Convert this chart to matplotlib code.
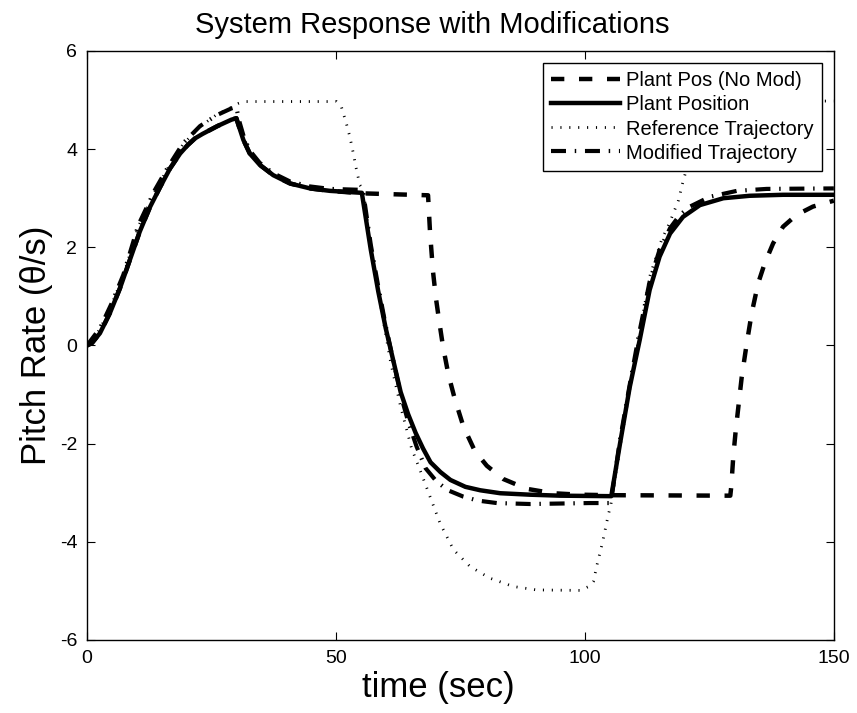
import numpy as np
import matplotlib
matplotlib.use('Agg')
import matplotlib.pyplot as plt

plt.rcParams['font.family'] = ['Liberation Sans', 'DejaVu Sans']
plt.rcParams['axes.unicode_minus'] = False

# values (time in sec, pitch rate)
t_plant = [0, 1, 2.6, 4.6, 6.6, 8.6, 10.6, 12.7, 14.7, 16.7, 18.7, 20.2, 21.7, 23.2, 24.7, 26.2,
           27.7, 29, 30.0,
           30.4, 31.4, 32.7, 34.7, 37.4, 40.8, 44.8, 48.8, 55.2,
           57, 58.5, 60, 61.5, 63, 64.5, 66, 67.5, 69, 71, 73, 76, 79, 83, 89, 95, 105.3,
           107, 109, 111, 113, 115, 117.1, 119.7, 123.1, 127.8, 133.1, 139.8, 150]
y_plant = [0, 0.05, 0.25, 0.66, 1.16, 1.74, 2.32, 2.83, 3.23, 3.61, 3.91, 4.08, 4.22, 4.31, 4.39,
           4.47, 4.54, 4.60, 4.63,
           4.50, 4.19, 3.91, 3.68, 3.47, 3.30, 3.20, 3.15, 3.11,
           1.95, 1.10, 0.35, -0.30, -0.95, -1.40, -1.78, -2.10, -2.38, -2.58, -2.74, -2.88, -2.95,
           -3.01, -3.04, -3.06, -3.07,
           -2.03, -0.85, 0.11, 1.13, 1.81, 2.28, 2.62, 2.86, 3.00, 3.05, 3.07, 3.07]

t_nomod = [0, 1, 2.6, 4.6, 6.6, 8.6, 10.6, 12.7, 14.7, 16.7, 18.7, 20.2, 21.7, 23.2, 24.7, 26.2,
           27.7, 29, 30.0,
           30.4, 31.4, 32.7, 34.7, 37.4, 40.8, 44.8, 48.8, 55.2, 68.5,
           68.9, 69.5, 70.1, 70.8, 71.5, 72.6, 73.9, 75.6, 77.9, 80.3, 83.6, 88.3, 93.6, 99, 105,
           129.2, 129.4, 129.8, 130.3, 130.9, 131.5, 132.5, 133.5, 134.8, 136.1, 137.8, 139.8,
           142.5, 145.8, 150]
y_nomod = [0, 0.05, 0.25, 0.66, 1.16, 1.74, 2.32, 2.83, 3.23, 3.61, 3.91, 4.08, 4.22, 4.31, 4.39,
           4.47, 4.54, 4.60, 4.63,
           4.50, 4.19, 3.91, 3.68, 3.47, 3.30, 3.20, 3.15, 3.10, 3.06,
           2.30, 1.50, 0.95, 0.45, -0.02, -0.60, -1.10, -1.65, -2.15, -2.45, -2.72, -2.92, -3.01,
           -3.04, -3.05,
           -3.06, -2.87, -2.26, -1.72, -1.18, -0.64, 0.04, 0.66, 1.27, 1.67, 2.08, 2.42,
           2.66, 2.83, 2.95]

t_ref = [0, 2.6, 4.96, 7.3, 10.3, 13.65, 16.3, 19.3, 22.7, 26, 29, 30.4, 32, 50.1,
         51.1, 52.1, 52.8, 53.5, 54, 54.8, 55.5, 57, 59, 61, 63, 65.2, 66.9, 68.9, 70.9,
         73.6, 76.9, 80.9, 85.6, 90.3, 99, 101, 101.7, 102.5, 103.5, 104.7, 105.2,
         106, 107.5, 109, 111, 113, 115.4, 117.1, 118.8, 119.7, 121, 122.5, 124, 126, 128, 131, 150]
y_ref = [0, 0.33, 0.84, 1.42, 2.42, 3.14, 3.62, 4.10, 4.46, 4.70, 4.85, 4.93, 4.97, 4.97,
         4.86, 4.52, 4.25, 3.91, 3.64, 3.27, 3.17, 2.00, 0.80, -0.35, -1.25, -2.10, -2.54,
         -3.08, -3.62, -4.16, -4.50, -4.74, -4.91, -4.98, -4.99, -4.90, -4.81, -4.44, -4.03,
         -3.45, -3.25,
         -2.75, -1.80, -0.90, 0.25, 1.40, 2.15, 2.52, 2.96, 3.34, 3.80, 4.25, 4.60, 4.85, 4.95,
         4.98, 4.98]

t_mod = [0, 2.6, 4.96, 7.3, 10.3, 13.65, 16.3, 19.3, 22.7, 26, 29, 30,
         30.5, 31.5, 32.7, 34.7, 37.4, 40.8, 44.8, 48.8, 55.4,
         57, 58.5, 60, 61.5, 63, 64.5, 66.2, 68, 70.2, 72.5, 75.6, 78.5, 82.3, 89, 101, 105.2,
         107, 109, 111, 113, 115, 117.1, 119, 121.1, 125.1, 130.5, 136.5, 150]
y_mod = [0, 0.35, 0.86, 1.44, 2.45, 3.17, 3.64, 4.12, 4.47, 4.69, 4.83, 4.86,
         4.60, 4.25, 3.97, 3.72, 3.51, 3.34, 3.24, 3.19, 3.17,
         2.05, 1.20, 0.40, -0.30, -1.00, -1.55, -2.06, -2.50, -2.77, -2.95, -3.08, -3.16,
         -3.21, -3.23, -3.21, -3.21,
         -1.95, -0.80, 0.30, 1.30, 1.95, 2.39, 2.65, 2.83, 3.03, 3.15, 3.19, 3.20]

labels = ['Plant Pos (No Mod)', 'Plant Position', 'Reference Trajectory', 'Modified Trajectory']

fig = plt.figure(figsize=(8.57, 7.13), dpi=100)
ax = fig.add_axes([0.1015, 0.1024, 0.8715, 0.8261])

ax.plot(t_nomod, y_nomod, color='k', lw=3.2, dashes=(3.0, 3.3), label=labels[0])
ax.plot(t_plant, y_plant, color='k', lw=3.2, label=labels[1])
ax.plot(t_ref, y_ref, color='k', lw=2.0, dashes=(0.4, 2.8), label=labels[2])
ax.plot(t_mod, y_mod, color='k', lw=3.0, dashes=(3.6, 2.1, 0.35, 2.1), label=labels[3])

ax.set_xlim(0, 150)
ax.set_ylim(-6, 6)
ax.set_xticks([0, 50, 100, 150])
ax.set_yticks([-6, -4, -2, 0, 2, 4, 6])
ax.tick_params(direction='in', top=True, right=True, length=6, width=0.8,
               labelsize=14, pad=7)
for s in ax.spines.values():
    s.set_linewidth(1.0)

# title and x label sit a little left of the axes centre in the original
ax.set_title('System Response with Modifications', fontsize=21, pad=13, x=0.462)
ax.set_xlabel('time (sec)', fontsize=25, labelpad=3, x=0.47)
ax.set_ylabel('Pitch Rate (\u03b8/s)', fontsize=25, labelpad=5)

leg = ax.legend(loc='upper right', bbox_to_anchor=(1 - 12 / 747, 1 - 12 / 589),
                borderaxespad=0, fontsize=14.5, handlelength=3.4, handletextpad=0.3,
                labelspacing=0.25, borderpad=0.42, fancybox=False, framealpha=1)
leg.get_frame().set_edgecolor('k')
leg.get_frame().set_linewidth(1.0)

fig.savefig('out.png', dpi=100)
